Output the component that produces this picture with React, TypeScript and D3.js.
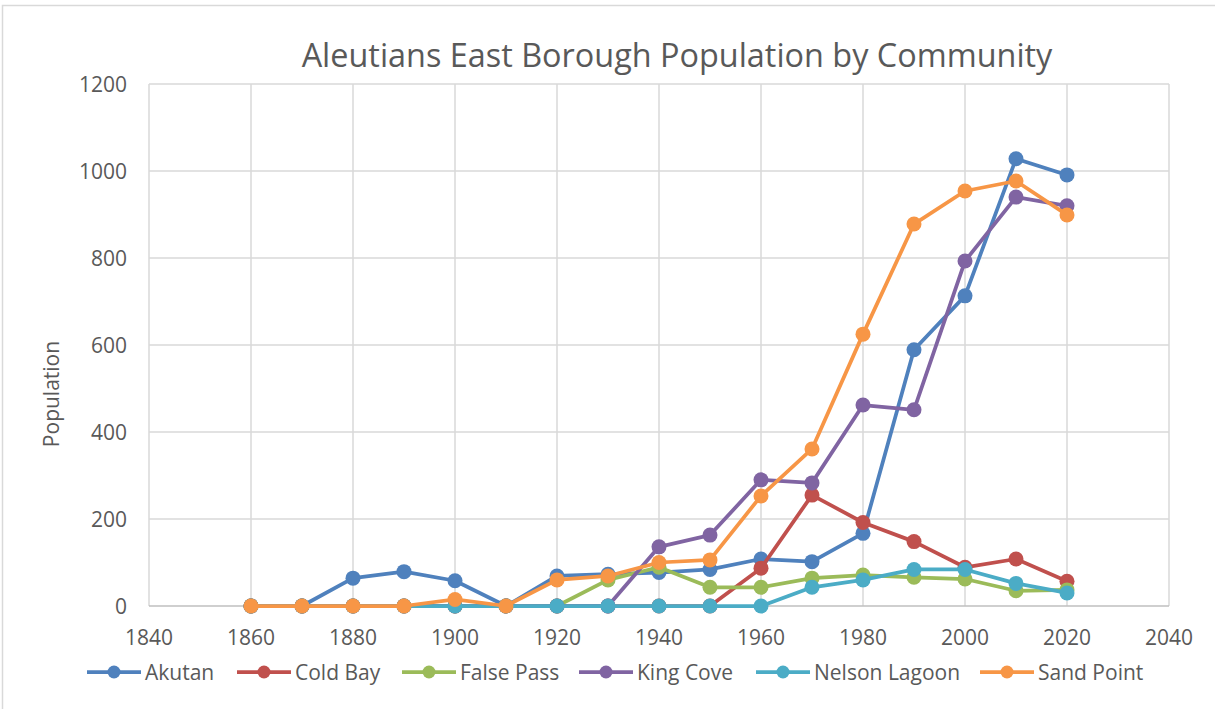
import React from 'react'
import * as d3 from 'd3'

const years = [1860, 1870, 1880, 1890, 1900, 1910, 1920, 1930, 1940, 1950, 1960, 1970, 1980, 1990, 2000, 2010, 2020]
const akutan = [0, 0, 64, 79, 58, 0, 69, 73, 77, 84, 108, 102, 167, 589, 713, 1028, 991]
const coldBay = [0, 0, 0, 0, 0, 0, 0, 0, 0, 0, 87, 255, 192, 148, 89, 108, 57]
const falsePass = [0, 0, 0, 0, 0, 0, 0, 60, 89, 43, 43, 64, 71, 66, 62, 35, 37]
const kingCove = [0, 0, 0, 0, 0, 0, 0, 0, 136, 163, 290, 283, 462, 451, 793, 940, 920]
const nelsonLagoon = [0, 0, 0, 0, 0, 0, 0, 0, 0, 0, 0, 43, 60, 84, 84, 52, 30]
const sandPoint = [0, 0, 0, 0, 15, 0, 60, 69, 100, 106, 253, 361, 625, 878, 954, 977, 899]

const seriesNames = ['Akutan', 'Cold Bay', 'False Pass', 'King Cove', 'Nelson Lagoon', 'Sand Point']
const seriesColors = ['#4f81bd', '#c0504d', '#9bbb59', '#8064a2', '#4bacc6', '#f79646']
const xTicks = [1840, 1860, 1880, 1900, 1920, 1940, 1960, 1980, 2000, 2020, 2040]
const yTicks = [0, 200, 400, 600, 800, 1000, 1200]

const W = 1215
const H = 709
const font = "'Open Sans', sans-serif"
const textColor = '#595959'

export default function App() {
  const allSeries = [akutan, coldBay, falsePass, kingCove, nelsonLagoon, sandPoint]

  const x = d3.scaleLinear().domain([1840, 2040]).range([149, 1169])
  const y = d3.scaleLinear().domain([0, 1200]).range([606, 84])

  const line = d3.line<number>()
    .x((d, i) => x(years[i]))
    .y(d => y(d))

  const legendX = [87, 237, 402, 579, 756, 980]
  const legendY = 672

  return (
    <svg width={W} height={H} style={{ position: 'absolute', left: 0, top: 0, background: '#fff' }}
      fontFamily={font}>
      <rect x={0} y={0} width={W} height={H} fill="#fff" />
      <rect x={2.5} y={5.5} width={W + 20} height={H + 20} fill="none" stroke="#d9d9d9" strokeWidth={1.5} />

      <text x={677} y={67} textAnchor="middle" fontSize={32.4} fill={textColor}>
        Aleutians East Borough Population by Community
      </text>

      {/* grid */}
      {yTicks.filter(t => t > 0).map(t => (
        <line key={'gy' + t} x1={x(1840)} x2={x(2040)} y1={y(t)} y2={y(t)} stroke="#d9d9d9" strokeWidth={1.5} />
      ))}
      {xTicks.map(t => (
        <line key={'gx' + t} x1={x(t)} x2={x(t)} y1={y(0)} y2={y(1200)} stroke="#d9d9d9" strokeWidth={1.5} />
      ))}
      <line x1={x(1840)} x2={x(2040)} y1={y(0)} y2={y(0)} stroke="#bfbfbf" strokeWidth={1.5} />

      {/* tick labels */}
      {yTicks.map(t => (
        <text key={'ty' + t} x={127} y={y(t) + 8} textAnchor="end" fontSize={21} fill={textColor}>{t}</text>
      ))}
      {xTicks.map(t => (
        <text key={'tx' + t} x={x(t)} y={645} textAnchor="middle" fontSize={21} fill={textColor}>{t}</text>
      ))}

      <text transform={`translate(59,${y(600) + 49}) rotate(-90)`} textAnchor="middle" fontSize={21} fill={textColor}>
        Population
      </text>

      {/* series */}
      {allSeries.map((s, k) => (
        <g key={seriesNames[k]}>
          <path d={line(s) || ''} fill="none" stroke={seriesColors[k]} strokeWidth={3.75} strokeLinejoin="round" />
          {s.map((v, i) => (
            <circle key={i} cx={x(years[i])} cy={y(v)} r={7.5} fill={seriesColors[k]} />
          ))}
        </g>
      ))}

      {/* legend */}
      {seriesNames.map((n, k) => (
        <g key={'lg' + n}>
          <line x1={legendX[k]} x2={legendX[k] + 54} y1={legendY} y2={legendY} stroke={seriesColors[k]} strokeWidth={3.75} />
          <circle cx={legendX[k] + 27} cy={legendY} r={6.5} fill={seriesColors[k]} />
          <text x={legendX[k] + 58} y={legendY + 8} fontSize={21} fill={textColor}>{n}</text>
        </g>
      ))}
    </svg>
  )
}
